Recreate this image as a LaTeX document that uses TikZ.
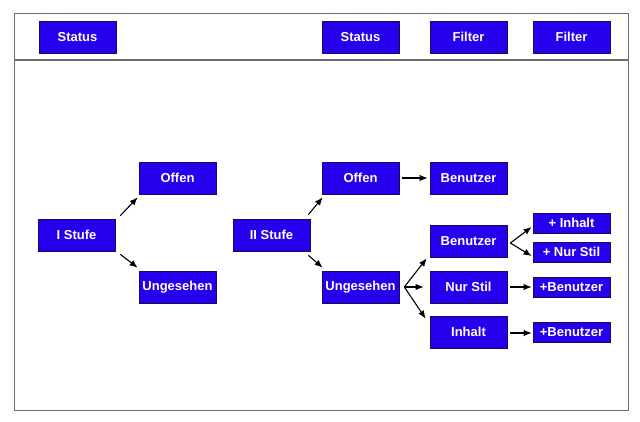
\documentclass[tikz,border=0pt]{standalone}
\usepackage{fontspec}
\setmainfont{Liberation Sans}
\usetikzlibrary{positioning,calc,arrows.meta}
\definecolor{boxblue}{RGB}{38,0,236}
\definecolor{boxline}{RGB}{25,10,90}
\definecolor{framegray}{RGB}{110,110,110}
\tikzset{box/.style={draw=boxline, fill=boxblue, text=white,
    font=\fontsize{13}{15}\selectfont\bfseries, minimum width=77pt,
    minimum height=32pt, inner sep=0pt, line width=0.7pt},
  small/.style={box, minimum height=20pt},
  arr/.style={-{Latex[length=8pt,width=6.5pt]}, line width=1.1pt}}

\begin{document}
\begin{tikzpicture}[x=1pt,y=-1pt]
  \useasboundingbox (0,0) rectangle (640,422);
  % frame and header
  \draw[framegray, line width=0.9pt] (14,13) rectangle (628,410);
  \draw[framegray, line width=1.1pt] (14,60) -- (628,60);
  \node[box] (S1) at (77.5,37) {Status}; \node[box] (S2) at
  (360.5,37) {Status}; \node[box] (F1) at (468.5,37) {Filter};
  \node[box] (F2) at (571.5,37) {Filter};

  % first stage
  \node[box] (A) at (76.5,235) {I Stufe}; \node[box] (AO) at
  (177.5,178) {Offen}; \node[box] (AU) at (177.5,287) {Ungesehen};
  \draw[arr] ($(A.north east)+(5,-3)$) -- ($(AO.south west)+(-1,3)$);
  \draw[arr] ($(A.south east)+(5,3)$) -- ($(AU.north west)+(-1,-3)$);

  % second stage
  \node[box] (B) at (271.5,235) {II Stufe}; \node[box] (BO) at
  (360.5,178) {Offen}; \node[box] (BU) at (360.5,287) {Ungesehen};
  \node[box] (BOB) at (468.5,178) {Benutzer}; \node[box] (BUB) at
  (468.5,241) {Benutzer}; \node[box] (BUN) at (468.5,287) {Nur Stil};
  \node[box] (BUI) at (468.5,332) {Inhalt};
  \node[small] (PI) at (571.5,223) {+ Inhalt}; \node[small] (PN) at
  (571.5,252) {+ Nur Stil}; \node[small] (PB1) at (571.5,287)
  {+Benutzer}; \node[small] (PB2) at (571.5,332) {+Benutzer};

  \draw[arr] ($(B.north east)+(-2,-4)$) -- ($(BO.south west)+(1,3)$);
  \draw[arr] ($(B.south east)+(-2,4)$) -- ($(BU.north west)+(1,-3)$);
  \draw[arr] ($(BO.east)+(3,0)$) -- ($(BOB.west)+(-2,0)$);
  \coordinate (BUout) at ($(BU.east)+(5,0)$);
  \draw[arr] (BUout) -- ($(BUB.south west)+(-3,1)$);
  \draw[arr] (BUout) -- ($(BUN.west)+(-6,0)$);
  \draw[arr] (BUout) -- ($(BUI.north west)+(-4,3)$);
  \coordinate (BUBout) at ($(BUB.east)+(3,2)$);
  \draw[arr] (BUBout) -- ($(PI.west)+(-1,4)$);
  \draw[arr] (BUBout) -- ($(PN.west)+(-1,4)$);
  \draw[arr] ($(BUN.east)+(3,0)$) -- ($(PB1.west)+(-1,0)$);
  \draw[arr] ($(BUI.east)+(3,1)$) -- ($(PB2.west)+(-1,1)$);
\end{tikzpicture}
\end{document}
